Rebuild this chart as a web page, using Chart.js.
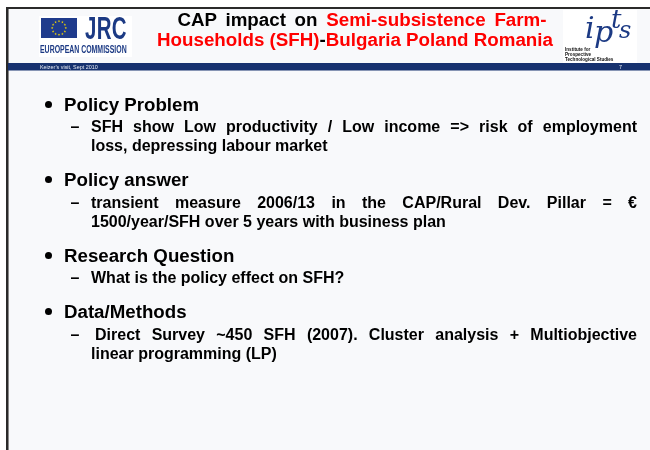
<!DOCTYPE html>
<html>
<head>
<meta charset="utf-8">
<title>CAP impact on Semi-subsistence Farm-Households</title>
<script src="https://cdn.jsdelivr.net/npm/chart.js@4.4.0/dist/chart.umd.min.js"></script>
<style>
  html, body { margin: 0; padding: 0; background: #fff; }
  #slide { position: relative; width: 650px; height: 450px; overflow: hidden;
    font-family: "Liberation Sans", Arial, sans-serif; font-weight: bold; color: #000; }
  #myChart { position: absolute; left: 0; top: 0; }
  .abs { position: absolute; white-space: nowrap; }
  #title { left: 149px; width: 412px; top: 10px; text-align: center; font-size: 18.75px; line-height: 20px; }
  #title .l1 { word-spacing: 3.5px; padding-left: 14px; }
  .red { color: #ff0000; }
  #jrc { left: 85px; top: 11px; font-size: 30.5px; color: #1c3a84; transform: scaleX(0.67); transform-origin: left top; letter-spacing: 0.5px; }
  #ec { left: 40px; top: 43px; font-size: 11px; color: #1c3a84; transform: scaleX(0.63); transform-origin: left top; }
  .ipts { font-family: "DejaVu Serif", "Liberation Serif", serif; font-style: italic; font-weight: normal; color: #1c3a84; }
  #ipts-small { left: 565px; top: 47px; font-size: 4.6px; line-height: 5px; color: #111; }
  #note { left: 40px; top: 63.5px; font-size: 5.4px; line-height: 7px; color: #e8ecf5; font-weight: normal; }
  #pageno { left: 619px; top: 63.5px; font-size: 5.4px; line-height: 7px; color: #e8ecf5; font-weight: normal; }
  #items { position: absolute; left: 0; top: 92.7px; width: 650px; }
  .item { position: relative; margin-bottom: 13px; }
  .head { position: relative; height: 23px; line-height: 23px; font-size: 18.7px; padding-left: 64px; white-space: nowrap; }
  .dot { position: absolute; left: 44.5px; top: 8px; width: 7px; height: 7px; border-radius: 50%; background: #000; }
  .subs { position: relative; margin-top: 1.5px; font-size: 16px; line-height: 19px; }
  .dash { position: absolute; left: 70.5px; top: 0; }
  .line { margin-left: 91px; width: 546px; white-space: nowrap; }
  .line.just { white-space: normal; text-align: justify; text-align-last: justify; }
</style>
</head>
<body>
<div id="slide">
  <canvas id="myChart" width="650" height="450"></canvas>
  <div id="title" class="abs"></div>
  <div id="jrc" class="abs">JRC</div>
  <div id="ec" class="abs">EUROPEAN COMMISSION</div>
  <div class="abs ipts" style="left:585px;top:10px;font-size:30px;">i</div>
  <div class="abs ipts" style="left:594px;top:14px;font-size:30px;">p</div>
  <div class="abs ipts" style="left:611px;top:4px;font-size:26px;">t</div>
  <div class="abs ipts" style="left:619px;top:16px;font-size:24px;">s</div>
  <div id="ipts-small" class="abs"></div>
  <div id="note" class="abs"></div>
  <div id="pageno" class="abs"></div>
  <div id="items"></div>
</div>
<script>
'use strict';
//Slide data
const titleLine1 = [['CAP impact on ', false], ['Semi-subsistence Farm-', true]];
const titleLine2 = [['Households (SFH)', true], ['-', false], ['Bulgaria Poland Romania', true]];
const headings = ['Policy Problem', 'Policy answer', 'Research Question', 'Data/Methods'];
const details = [
  ['SFH show Low productivity / Low income => risk of employment', 'loss, depressing labour market'],
  ['transient measure 2006/13 in the CAP/Rural Dev. Pillar = \u20ac', '1500/year/SFH over 5 years with business plan'],
  ['What is the policy effect on SFH?'],
  ['Direct Survey ~450 SFH (2007). Cluster analysis + Multiobjective', 'linear programming (LP)']
];
const footerNote = 'Keizer\u2019s visit, Sept 2010';
const slideNumber = '7';
const instituteLines = ['Institute for', 'Prospective', 'Technological Studies'];

//Text blocks
function renderTitle(){
  const div_title = document.getElementById('title');
  [titleLine1, titleLine2].forEach(function(parts, n){
    const line = document.createElement('div');
    line.className = 'l' + (n + 1);
    parts.forEach(function(p){
      const span = document.createElement('span');
      span.textContent = p[0];
      if (p[1]) span.className = 'red';
      line.appendChild(span);
    });
    div_title.appendChild(line);
  });
}

function renderItems(){
  const div_items = document.getElementById('items');
  for (let i = 0; i < headings.length; i++){
    const item = document.createElement('div');
    item.className = 'item';
    const head = document.createElement('div');
    head.className = 'head';
    head.innerHTML = '<span class="dot"></span>';
    head.appendChild(document.createTextNode(headings[i]));
    item.appendChild(head);

    const subs = document.createElement('div');
    subs.className = 'subs';
    const dash = document.createElement('span');
    dash.className = 'dash';
    dash.textContent = '\u2013';
    subs.appendChild(dash);
    for (let j = 0; j < details[i].length; j++){
      const line = document.createElement('div');
      line.className = (j < details[i].length - 1) ? 'line just' : 'line';
      if (i === 3 && j === 0){
        line.style.marginLeft = '95px';
        line.style.width = '542px';
      }
      line.textContent = details[i][j];
      subs.appendChild(line);
    }
    item.appendChild(subs);
    div_items.appendChild(item);
  }
}

document.getElementById('note').textContent = footerNote;
document.getElementById('pageno').textContent = slideNumber;
document.getElementById('ipts-small').innerHTML = instituteLines.join('<br>');
renderTitle();
renderItems();

//Slide frame drawn on the chart canvas
const slideFrame = {
  id: 'slideFrame',
  beforeDraw(chart){
    const ctx = chart.ctx;
    ctx.save();
    ctx.fillStyle = '#ffffff';
    ctx.fillRect(0, 0, 650, 450);
    ctx.fillStyle = '#f8f9fb';
    ctx.fillRect(8, 9, 642, 441);
    // frame
    ctx.fillStyle = '#2a2a2a';
    ctx.fillRect(6, 7, 644, 2);
    ctx.fillRect(6, 7, 2, 443);
    ctx.fillStyle = '#8a8a8a';
    ctx.fillRect(8, 9, 1, 441);
    // logo boxes
    ctx.fillStyle = '#ffffff';
    ctx.fillRect(39, 16, 93, 41);
    ctx.fillRect(563, 10, 74, 53);
    // band
    ctx.fillStyle = '#17326f';
    ctx.fillRect(8, 63, 642, 7.5);
    // EU flag
    ctx.fillStyle = '#1f3b8c';
    ctx.fillRect(41, 18, 36, 20);
    ctx.fillStyle = '#f4d800';
    for (let k = 0; k < 12; k++){
      const a = k * Math.PI / 6;
      const cx = 59 + 6.8 * Math.cos(a);
      const cy = 28 + 6.8 * Math.sin(a);
      ctx.beginPath();
      for (let s = 0; s < 10; s++){
        const r = (s % 2 === 0) ? 1.3 : 0.55;
        const b = -Math.PI / 2 + s * Math.PI / 5;
        ctx.lineTo(cx + r * Math.cos(b), cy + r * Math.sin(b));
      }
      ctx.closePath();
      ctx.fill();
    }
    ctx.restore();
  }
};

const chart_myChart = document.getElementById('myChart').getContext('2d');
const chart = new Chart(chart_myChart, {
  type: 'bar',
  data: { labels: headings, datasets: [] },
  options: {
    responsive: false,
    animation: false,
    devicePixelRatio: 1,
    events: [],
    layout: { padding: 0 },
    plugins: { legend: { display: false }, tooltip: { enabled: false }, title: { display: false } },
    scales: { x: { display: false }, y: { display: false } }
  },
  plugins: [slideFrame]
});
</script>
</body>
</html>
